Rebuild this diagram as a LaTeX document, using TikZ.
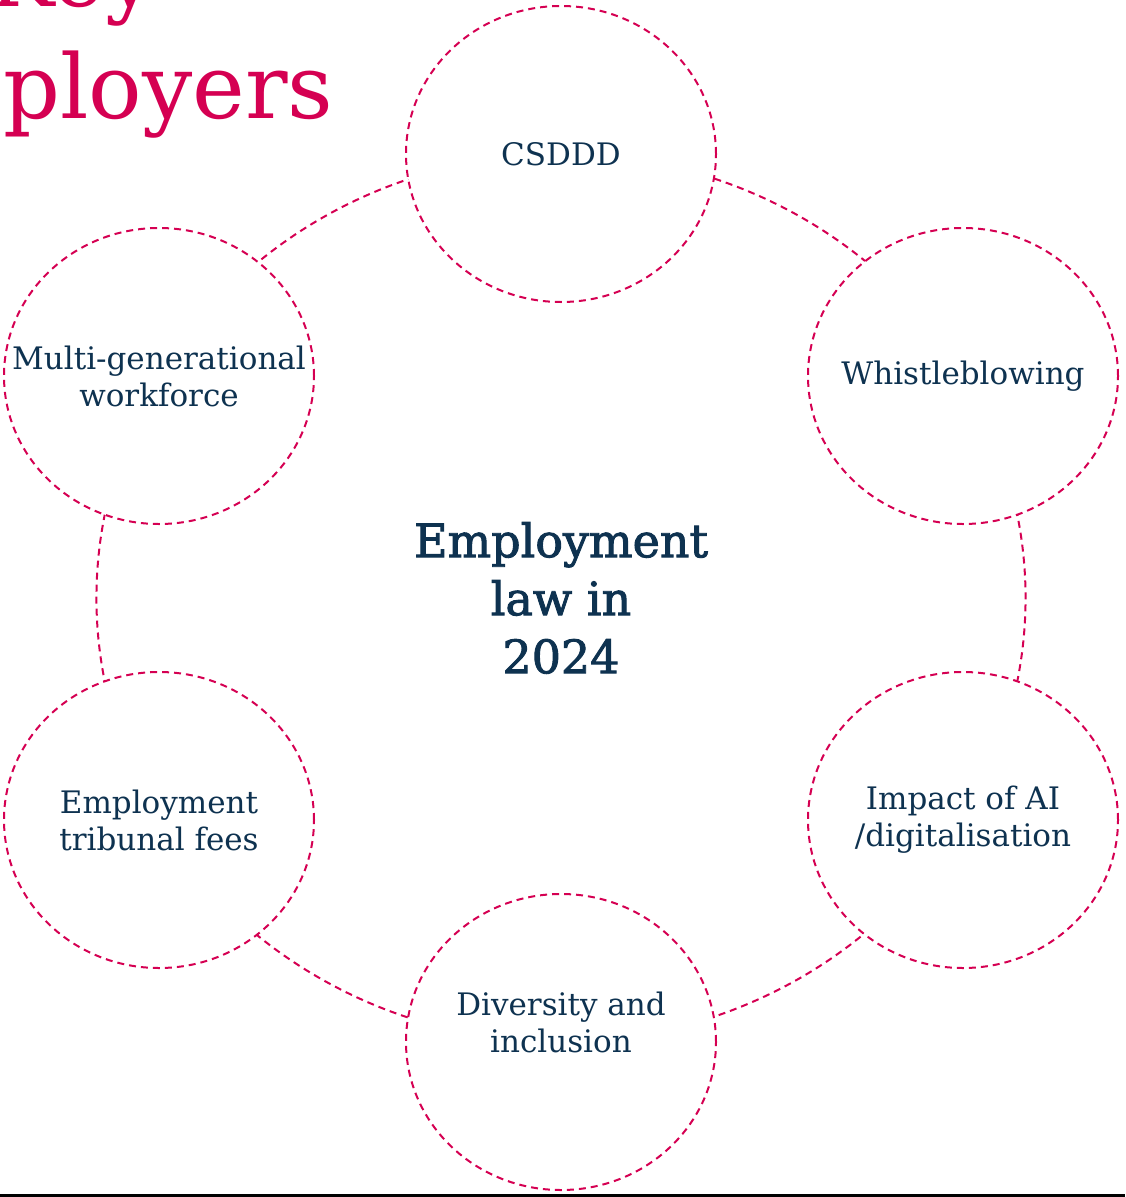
\documentclass[tikz,border=0pt]{standalone}
\usepackage{fontspec}
\setmainfont{DejaVu Serif}
\newfontfamily\hubfont[FakeBold=2]{DejaVu Serif}
\usetikzlibrary{shapes.geometric,backgrounds}

\definecolor{brandpink}{RGB}{213,0,82}
\definecolor{brandnavy}{RGB}{14,50,80}

\tikzset{
  topic/.style={ellipse, draw=brandpink, fill=white, line width=2pt,
    dash pattern=on 7pt off 5pt, minimum width=310pt, minimum height=296pt,
    inner sep=0pt},
  topictext/.style={text=brandnavy, align=center, inner sep=0pt,
    font=\fontsize{31}{37}\selectfont},
  ring/.style={draw=brandpink, line width=2pt, dash pattern=on 7pt off 5pt},
  hub/.style={text=brandnavy, align=center, font=\hubfont\fontsize{46}{58}\selectfont},
  headline/.style={text=brandpink, inner sep=0pt, anchor=base west,
    font=\fontsize{89}{112}\selectfont}
}

\begin{document}
\begin{tikzpicture}[x=1pt, y=-1pt]
  \clip (0,0) rectangle (1125,1197);
  \useasboundingbox (0,0) rectangle (1125,1197);

  % heading, running off the top left corner
  \node[headline] (headA) at (-12,6) {Key};
  \node[headline] (headB) at (3,118) {ployers};

  % central theme
  \node[hub] (hub) at (561,598) {Employment\\law in\\2024};

  % topics around the ring
  \node[topic, label={[topictext]center:CSDDD}]                        (csddd)   at (561,154)  {};
  \node[topic, label={[topictext]center:Whistleblowing}]               (whistle) at (963,376)  {};
  \node[topic, label={[topictext]center:Impact of AI\\/digitalisation}] (ai)      at (963,820)  {};
  \node[topic, label={[topictext, yshift=20pt]center:Diversity and\\inclusion}] (divers) at (561,1042) {};
  \node[topic, label={[topictext]center:Employment\\tribunal fees}]    (fees)    at (159,820)  {};
  \node[topic, label={[topictext]center:Multi-generational\\workforce}] (multi)   at (159,376)  {};

  % ring segments joining neighbouring topics
  \begin{pgfonlayer}{background}
    \draw[ring] (csddd.center)   arc[start angle=90,  end angle=30,   x radius=467pt, y radius=444pt];
    \draw[ring] (whistle.center) arc[start angle=30,  end angle=-30,  x radius=467pt, y radius=444pt];
    \draw[ring] (ai.center)      arc[start angle=-30, end angle=-90,  x radius=467pt, y radius=444pt];
    \draw[ring] (divers.center)  arc[start angle=-90, end angle=-150, x radius=467pt, y radius=444pt];
    \draw[ring] (fees.center)    arc[start angle=210, end angle=150,  x radius=467pt, y radius=444pt];
    \draw[ring] (multi.center)   arc[start angle=150, end angle=90,   x radius=467pt, y radius=444pt];
  \end{pgfonlayer}

  % rule along the bottom edge
  \coordinate (ruleL) at (0,1195.5);
  \coordinate (ruleR) at (1125,1195.5);
  \draw[line width=3pt, black] (ruleL) -- (ruleR);
\end{tikzpicture}
\end{document}
